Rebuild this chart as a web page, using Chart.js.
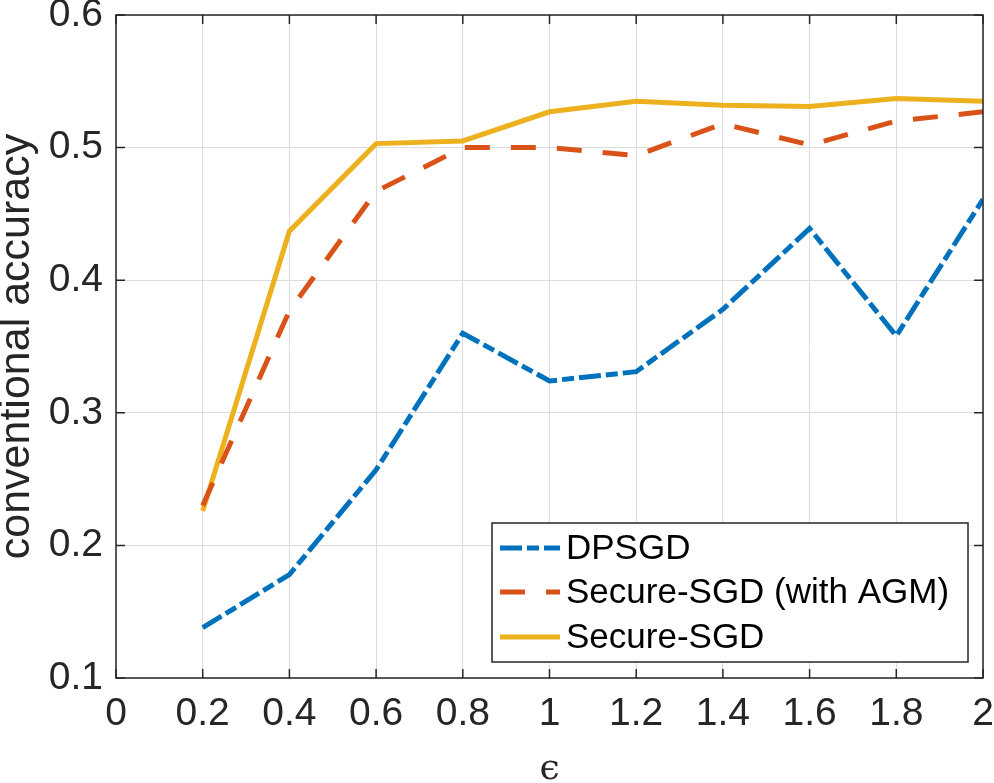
<!DOCTYPE html>
<html>
<head>
<meta charset="utf-8">
<script src="https://cdn.jsdelivr.net/npm/chart.js@4.4.1/dist/chart.umd.min.js"></script>
<style>
  body { margin: 0; background: #fff; }
  canvas { display: block; }
</style>
</head>
<body>
<canvas id="acc-chart" width="994" height="783"></canvas>
<script>
// epsilon values (x axis)
const epsilons = [0.2, 0.4, 0.6, 0.8, 1.0, 1.2, 1.4, 1.6, 1.8, 2.0];

// conventional accuracy per method
const dpsgd      = [0.138, 0.178, 0.257, 0.360, 0.324, 0.331, 0.378, 0.439, 0.358, 0.461];
const secureAgm  = [0.230, 0.377, 0.467, 0.500, 0.500, 0.494, 0.518, 0.502, 0.520, 0.527];
const secureSgd  = [0.226, 0.437, 0.503, 0.505, 0.527, 0.535, 0.532, 0.531, 0.537, 0.535];

const seriesNames = ["DPSGD", "Secure-SGD (with AGM)", "Secure-SGD"];
const xTicks = [0, 0.2, 0.4, 0.6, 0.8, 1, 1.2, 1.4, 1.6, 1.8, 2];
const yTicks = [0.1, 0.2, 0.3, 0.4, 0.5, 0.6];

const axisColor = "#262626";
const fontFamily = "'Liberation Sans', Arial, Helvetica, sans-serif";

function points(ys) {
  return epsilons.map((x, i) => ({ x: x, y: ys[i] }));
}

// box around the axes with inward ticks, MATLAB style + legend
const boxPlugin = {
  id: "boxPlugin",
  afterDatasetsDraw(chart) {
    const { ctx, chartArea: a, scales } = chart;
    ctx.save();
    ctx.strokeStyle = axisColor;
    ctx.lineWidth = 1.5;
    ctx.strokeRect(a.left, a.top, a.right - a.left, a.bottom - a.top);
    const len = 9;
    ctx.beginPath();
    xTicks.forEach(v => {
      const px = scales.x.getPixelForValue(v);
      ctx.moveTo(px, a.bottom); ctx.lineTo(px, a.bottom - len);
      ctx.moveTo(px, a.top); ctx.lineTo(px, a.top + len);
    });
    yTicks.forEach(v => {
      const py = scales.y.getPixelForValue(v);
      ctx.moveTo(a.left, py); ctx.lineTo(a.left + len, py);
      ctx.moveTo(a.right, py); ctx.lineTo(a.right - len, py);
    });
    ctx.stroke();
    ctx.restore();
  },
  afterDraw(chart) {
    const ctx = chart.ctx;
    const bx = 492, by = 523, bw = 476, bh = 139;
    ctx.save();
    ctx.fillStyle = "#fff";
    ctx.fillRect(bx, by, bw, bh);
    ctx.strokeStyle = axisColor;
    ctx.lineWidth = 1.5;
    ctx.strokeRect(bx, by, bw, bh);
    const rows = [548, 592, 637];
    chart.data.datasets.forEach((ds, i) => {
      ctx.beginPath();
      ctx.strokeStyle = ds.borderColor;
      ctx.lineWidth = ds.borderWidth;
      ctx.setLineDash(ds.borderDash || []);
      ctx.moveTo(500, rows[i]);
      ctx.lineTo(560, rows[i]);
      ctx.stroke();
      ctx.setLineDash([]);
      ctx.fillStyle = "#000";
      ctx.font = "35px " + fontFamily;
      ctx.textBaseline = "middle";
      ctx.textAlign = "left";
      ctx.fillText(ds.label, 566, rows[i] + 1);
    });
    ctx.restore();
  }
};

new Chart(document.getElementById("acc-chart"), {
  type: "line",
  data: {
    datasets: [
      {
        label: seriesNames[0],
        data: points(dpsgd),
        borderColor: "#0072BD",
        borderWidth: 5,
        borderDash: [22, 5, 12, 5]
      },
      {
        label: seriesNames[1],
        data: points(secureAgm),
        borderColor: "#D95319",
        borderWidth: 5,
        borderDash: [25, 21]
      },
      {
        label: seriesNames[2],
        data: points(secureSgd),
        borderColor: "#EDB120",
        borderWidth: 5
      }
    ]
  },
  options: {
    responsive: false,
    animation: false,
    layout: { padding: 0 },
    elements: {
      point: { radius: 0 },
      line: { tension: 0, fill: false, borderJoinStyle: "miter", borderCapStyle: "butt" }
    },
    plugins: {
      legend: { display: false },
      tooltip: { enabled: false }
    },
    scales: {
      x: {
        type: "linear",
        min: 0,
        max: 2,
        afterFit: s => {
          s.height = 105;
          s.paddingLeft = 0;
          s.paddingRight = 11;
        },
        afterBuildTicks: s => { s.ticks = xTicks.map(v => ({ value: v })); },
        grid: { color: "#dcdcdc", lineWidth: 1, drawTicks: false },
        border: { display: false },
        ticks: {
          color: axisColor,
          padding: 17,
          maxRotation: 0,
          font: { family: fontFamily, size: 39, lineHeight: 1 },
          callback: v => String(Number(v.toFixed(1)))
        },
        title: {
          display: true,
          text: "ϵ",
          color: axisColor,
          padding: { top: 0, bottom: 3 },
          font: { family: "'DejaVu Serif', 'Liberation Serif', serif", size: 36, lineHeight: 0.6 }
        }
      },
      y: {
        min: 0.1,
        max: 0.6,
        afterFit: s => {
          s.width = 116;
          s.paddingTop = 15;
          s.paddingBottom = 0;
        },
        afterBuildTicks: s => { s.ticks = yTicks.map(v => ({ value: v })); },
        grid: { color: "#dcdcdc", lineWidth: 1, drawTicks: false },
        border: { display: false },
        ticks: {
          color: axisColor,
          padding: 13,
          font: { family: fontFamily, size: 39, lineHeight: 1 },
          callback: v => v.toFixed(1)
        },
        title: {
          display: true,
          text: "conventional accuracy",
          color: axisColor,
          padding: { top: 0, bottom: 0 },
          font: { family: fontFamily, size: 43, lineHeight: 0.8 }
        }
      }
    }
  },
  plugins: [boxPlugin]
});
</script>
</body>
</html>
